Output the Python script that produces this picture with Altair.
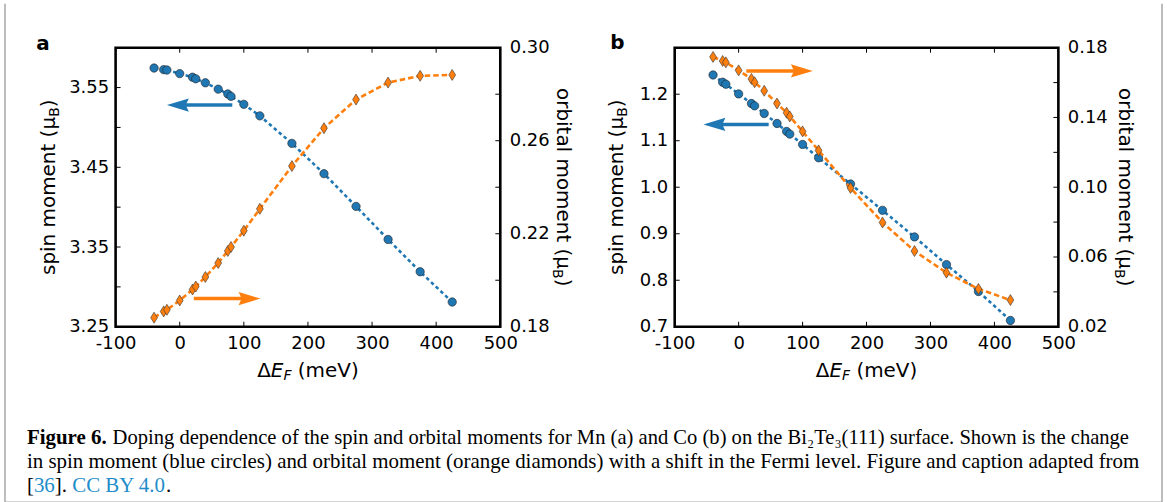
import altair as alt
import pandas as pd

# ---------------- data ----------------
dEF = [-40, -25, -20, 0, 20, 25, 40, 60, 75, 80, 100, 125, 175, 225, 275, 325, 375, 425]

spin_mn = [3.5745, 3.5725, 3.572, 3.5675, 3.563, 3.561, 3.556, 3.548, 3.542, 3.539,
           3.529, 3.5145, 3.480, 3.442, 3.401, 3.3595, 3.319, 3.281]
orb_mn = [0.1839, 0.1866, 0.1873, 0.1913, 0.196, 0.1973, 0.2014, 0.2074, 0.2126, 0.2143,
          0.2213, 0.2307, 0.2491, 0.2654, 0.2777, 0.285, 0.2879, 0.2883]
spin_co = [1.2414, 1.2258, 1.2215, 1.2006, 1.18, 1.1749, 1.1586, 1.1371, 1.12, 1.1142,
           1.092, 1.0633, 1.0069, 0.9504, 0.8931, 0.8337, 0.7758, 0.7135]
orb_co = [0.1747, 0.1724, 0.1716, 0.167, 0.1621, 0.1602, 0.1553, 0.148, 0.1427, 0.1406,
          0.132, 0.1211, 0.0996, 0.0798, 0.0634, 0.051, 0.0417, 0.0353]

x_ticks = [-100, 0, 100, 200, 300, 400, 500]
spin_mn_ticks = [3.25, 3.30, 3.35, 3.40, 3.45, 3.50, 3.55, 3.60]
spin_mn_labels = [3.25, 3.35, 3.45, 3.55]
orb_mn_ticks = [0.18, 0.20, 0.22, 0.24, 0.26, 0.28, 0.30]
orb_mn_labels = [0.18, 0.22, 0.26, 0.30]
spin_co_ticks = [0.7, 0.8, 0.9, 1.0, 1.1, 1.2, 1.3]
spin_co_labels = [0.7, 0.8, 0.9, 1.0, 1.1, 1.2]
orb_co_ticks = [0.02, 0.04, 0.06, 0.08, 0.10, 0.12, 0.14, 0.16, 0.18]
orb_co_labels = [0.02, 0.06, 0.10, 0.14, 0.18]

# arrows: start x, tip x, level (data units)
arrow_mn_spin = {"x0": [82], "x1": [-20], "y": [3.528]}
arrow_mn_orb = {"x0": [22], "x1": [126], "y": [0.1921]}
arrow_co_spin = {"x0": [47], "x1": [-55], "y": [1.135]}
arrow_co_orb = {"x0": [12], "x1": [116], "y": [0.1667]}

caption_l1_bold = "Figure 6."
caption_l1 = ("Doping dependence of the spin and orbital moments for Mn (a) and Co (b) on the "
              "Bi\u2082Te\u2083(111) surface. Shown is the change")
caption_l2 = ("in spin moment (blue circles) and orbital moment (orange diamonds) with a shift "
              "in the Fermi level. Figure and caption adapted from")

# ---------------- styling ----------------
BLUE = "#1f77b4"
ORANGE = "#ff7f0e"
LINK = "#1f8dc9"
SANS = "DejaVu Sans"
SERIF = "Liberation Serif"
CAP = 21
LAB = 18
TIT = 20
SUB = 14
HEAD_LEFT = "M-1,0L1,-0.6L0.72,0L1,0.6Z"
HEAD_RIGHT = "M1,0L-1,-0.6L-0.72,0L-1,0.6Z"
DIAMOND = "M0,-1L0.62,0L0,1L-0.62,0Z"

W_A, W_B, H = 386, 385, 280

EM = {"s": .521, "p": .635, "i": .278, "n": .634, " ": .318, "m": .974, "o": .612,
      "e": .615, "t": .392, "(": .390, ")": .390, "\u03bc": .636, "b": .635, "r": .411,
      "a": .613, "l": .278, "B": .686, "\u0394": .684, "E": .632, "F": .575, "V": .684}


def w(text, size):
    return sum(EM.get(c, 0.6) for c in text) * size


def one_text(text, x, y, **props):
    return alt.Chart(pd.DataFrame({"t": [text]})).mark_text(**props).encode(
        x=alt.value(x), y=alt.value(y), text="t:N")


def composite(cx, cy, angle, parts):
    """parts: (text, size, style, dy); pieces are laid out along the text direction."""
    total = sum(w(p[0], p[1]) for p in parts)
    cur = -total / 2
    out = []
    for text, size, style, dy in parts:
        lead = len(text) - len(text.lstrip(" "))
        shown = text.lstrip(" ")
        out.append(one_text(shown, cx, cy, font=SANS, fontSize=size, fontStyle=style,
                            align="left", baseline="middle", angle=angle,
                            dx=cur + w(" " * lead, size), dy=dy, color="black"))
        cur += w(text, size)
    return out


def xtitle(cx, cy):
    return composite(cx, cy, 0, [("\u0394", TIT, "normal", 0), ("E", TIT, "italic", 0),
                                 ("F", SUB, "italic", 5.8), (" (meV)", TIT, "normal", 0)])


def ytitle(cx, cy, angle, word):
    return composite(cx, cy, angle, [(word + " (\u03bc", TIT, "normal", 0),
                                     ("B", SUB, "normal", 5.8), (")", TIT, "normal", 0)])


def make_panel(spin, orb, sdom, odom, sticks, slabels, sfmt, oticks, olabels, ofmt,
               arr_s, arr_o, Wd, texts):
    df = pd.DataFrame({"x": dEF, "spin": spin, "orb": orb})
    xs = alt.Scale(domain=[-100, 500], nice=False, zero=False)
    ss = alt.Scale(domain=sdom, nice=False, zero=False)
    osc = alt.Scale(domain=odom, nice=False, zero=False)
    xaxis = alt.Axis(orient="bottom", values=x_ticks, labelExpr="'' + datum.value",
                     title=None, labelPadding=8)
    saxis = alt.Axis(orient="left", values=slabels, format=sfmt, title=None, labelPadding=7)
    oaxis = alt.Axis(orient="right", values=olabels, format=ofmt, title=None, labelPadding=9)

    def X(f):
        return alt.X(f, scale=xs, axis=xaxis)

    def YS(f):
        return alt.Y(f, scale=ss, axis=saxis)

    def YO(f):
        return alt.Y(f, scale=osc, axis=oaxis)

    base = alt.Chart(df)

    s_line = base.mark_line(color=BLUE, strokeDash=[3.5, 3], strokeWidth=2.6).encode(
        x=X("x:Q"), y=YS("spin:Q"))
    s_pts = base.mark_circle(size=70, fill=BLUE, stroke="#222222", strokeWidth=0.6,
                             opacity=1, fillOpacity=1).encode(x=X("x:Q"), y=YS("spin:Q"))
    tdf = pd.DataFrame({"v": sticks})
    s_tick = alt.Chart(tdf).mark_rule(color="black", strokeWidth=1).encode(
        y=YS("v:Q"), x=alt.value(0), x2=alt.value(5))
    xdf = pd.DataFrame({"v": x_ticks})
    xt_b = alt.Chart(xdf).mark_rule(color="black", strokeWidth=1).encode(
        x=X("v:Q"), y=alt.value(H), y2=alt.value(H - 5))
    xt_t = alt.Chart(xdf).mark_rule(color="black", strokeWidth=1).encode(
        x=X("v:Q"), y=alt.value(0), y2=alt.value(5))

    def arrow(d, Yf, color, left):
        adf = pd.DataFrame(d)
        shaft = alt.Chart(adf).mark_rule(color=color, strokeWidth=3.5, strokeCap="butt",
                                         x2Offset=(10 if left else -10)).encode(
            x=X("x0:Q"), x2="x1:Q", y=Yf("y:Q"))
        head = alt.Chart(adf).mark_point(shape=HEAD_LEFT if left else HEAD_RIGHT, size=484,
                                         filled=True, fill=color, strokeWidth=0,
                                         opacity=1, xOffset=(11 if left else -11)).encode(
            x=X("x1:Q"), y=Yf("y:Q"))
        return [shaft, head]

    spin_group = alt.layer(s_line, s_pts, s_tick, xt_b, xt_t, *arrow(arr_s, YS, BLUE, True))

    o_line = base.mark_line(color=ORANGE, strokeDash=[5.5, 3], strokeWidth=2.6).encode(
        x=X("x:Q"), y=YO("orb:Q"))
    o_pts = base.mark_point(shape=DIAMOND, size=121, filled=True, fill=ORANGE,
                            stroke="#333333", strokeWidth=0.6, opacity=1).encode(
        x=X("x:Q"), y=YO("orb:Q"))
    odf = pd.DataFrame({"v": oticks})
    o_tick = alt.Chart(odf).mark_rule(color="black", strokeWidth=1).encode(
        y=YO("v:Q"), x=alt.value(Wd - 5), x2=alt.value(Wd))
    orb_group = alt.layer(o_line, o_pts, o_tick, *arrow(arr_o, YO, ORANGE, False))

    text_group = alt.layer(*texts)
    return alt.layer(spin_group, orb_group, text_group).resolve_scale(
        y="independent").properties(width=Wd, height=H)


one = pd.DataFrame({"k": [0]})


def frame_rule(x, y, x2=None, y2=None, color="#a6a6a6", sw=1.5, opacity=1):
    enc = {"x": alt.value(x), "y": alt.value(y)}
    if x2 is not None:
        enc["x2"] = alt.value(x2)
    if y2 is not None:
        enc["y2"] = alt.value(y2)
    return alt.Chart(one).mark_rule(color=color, strokeWidth=sw, strokeOpacity=opacity).encode(**enc)


def cap(text, x, y, color="black", weight="normal", size=CAP):
    return one_text(text, x, y, font=SERIF, fontSize=size, fontWeight=weight, align="left",
                    baseline="alphabetic", color=color)


texts_a = [
    one_text("a", -73, 2, font=SANS, fontSize=20, fontWeight="bold", align="center",
             baseline="alphabetic", color="black"),
    *xtitle(W_A / 2, 324),
    *ytitle(-67, H / 2, 270, "spin moment"),
    *ytitle(449, H / 2, 90, "orbital moment"),
    # caption
    cap(caption_l1_bold, -89, 398, weight="bold"),
    cap(caption_l1, -3, 398, size=20.65),
    cap(caption_l2, -89, 422),
    cap("[", -89, 446),
    cap("36", -82, 446, color=LINK),
    cap("].", -61, 446),
    cap("CC BY 4.0", -43.5, 446, color=LINK),
    cap(".", 50.5, 446),
    # figure border
    frame_rule(-111, -44, y2=456),
    frame_rule(1050, -44, y2=456),
    frame_rule(-111, 456, x2=1050),
    frame_rule(-114, -44, x2=1053, y2=458, sw=0, opacity=0),
]

texts_b = [
    one_text("b", -57.5, 1, font=SANS, fontSize=20, fontWeight="bold", align="center",
             baseline="alphabetic", color="black"),
    *xtitle(W_B / 2, 324),
    *ytitle(-58, H / 2, 270, "spin moment"),
    *ytitle(452, H / 2, 90, "orbital moment"),
]

panel_a = make_panel(spin_mn, orb_mn, [3.25, 3.60], [0.18, 0.30], spin_mn_ticks, spin_mn_labels,
                     ".2f", orb_mn_ticks, orb_mn_labels, ".2f", arrow_mn_spin, arrow_mn_orb,
                     W_A, texts_a)
panel_b = make_panel(spin_co, orb_co, [0.7, 1.3], [0.02, 0.18], spin_co_ticks, spin_co_labels,
                     ".1f", orb_co_ticks, orb_co_labels, ".2f", arrow_co_spin, arrow_co_orb,
                     W_B, texts_b)

chart = alt.hconcat(panel_a, panel_b, spacing=175, bounds="flush").properties(
    padding=0, background="white"
).configure_view(stroke="black", strokeWidth=2.6).configure_axis(
    labelFont=SANS, labelFontSize=LAB, labelColor="black", ticks=False, domain=False,
    grid=False, labelFlush=False, labelOverlap=False)

chart.save("out.html", embed_options={"renderer": "svg", "actions": False})
